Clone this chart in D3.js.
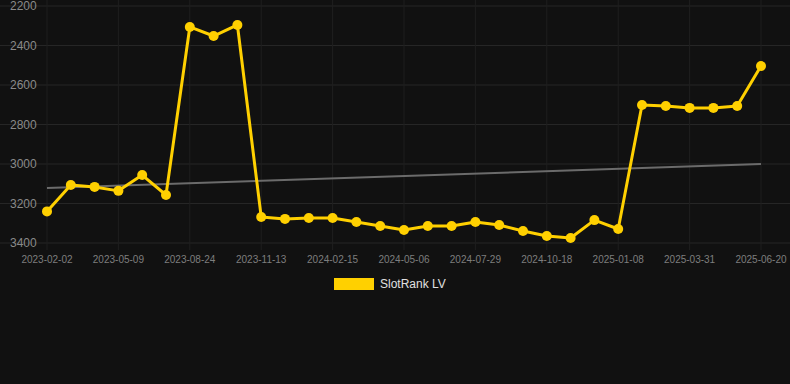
<!DOCTYPE html>
<html lang="en">
<head>
  <meta charset="utf-8" />
  <title>SlotRank LV</title>
  <script src="https://cdn.jsdelivr.net/npm/d3@7"></script>
  <style>
    body { margin: 0; background: #111111; }
    svg { display: block; font-family: "Liberation Sans", Arial, sans-serif; }
  </style>
</head>
<body>
<svg id="chart" width="790" height="384"></svg>
<script>
// rank per snapshot (lower is better, axis is inverted)
var rankValues = [3240, 3106, 3116, 3136, 3056, 3157, 2306, 2352, 2296, 3268,
                  3278, 3273, 3273, 3294, 3314, 3334, 3314, 3314, 3294, 3309,
                  3339, 3365, 3375, 3284, 3329, 2701, 2706, 2716, 2716, 2706, 2504];
// labels shown every third point
var tickLabels = ["2023-02-02", "2023-05-09", "2023-08-24", "2023-11-13", "2024-02-15",
                  "2024-05-06", "2024-07-29", "2024-10-18", "2025-01-08", "2025-03-31", "2025-06-20"];
var yTicks = [2200, 2400, 2600, 2800, 3000, 3200, 3400];
var trendEnds = [3121, 3000];
var seriesName = "SlotRank LV";

var W = 790, H = 384;
var svg = d3.select("#chart");

var x = d3.scaleLinear()
  .domain([0, rankValues.length - 1])
  .range([47, 761]);

var y = d3.scaleLinear()
  .domain([2200, 3400])
  .range([6, 243]);

// horizontal grid
svg.append("g").selectAll("line")
  .data(yTicks)
  .enter().append("line")
  .attr("x1", 0).attr("x2", W)
  .attr("y1", function(d) { return y(d); })
  .attr("y2", function(d) { return y(d); })
  .attr("stroke", "#262626")
  .attr("stroke-width", 1);

// vertical grid at labelled points
var tickIdx = tickLabels.map(function(d, i) { return i * 3; });
svg.append("g").selectAll("line")
  .data(tickIdx)
  .enter().append("line")
  .attr("x1", function(d) { return x(d); })
  .attr("x2", function(d) { return x(d); })
  .attr("y1", 0).attr("y2", 250)
  .attr("stroke", "#1f1f1f")
  .attr("stroke-width", 1);

// y labels
svg.append("g").selectAll("text")
  .data(yTicks)
  .enter().append("text")
  .attr("x", 10)
  .attr("y", function(d) { return y(d); })
  .attr("dy", "0.35em")
  .attr("fill", "#8a8a8a")
  .attr("font-size", 12)
  .text(function(d) { return d; });

// x labels
svg.append("g").selectAll("text")
  .data(tickLabels)
  .enter().append("text")
  .attr("x", function(d, i) { return x(i * 3); })
  .attr("y", 263)
  .attr("text-anchor", "middle")
  .attr("fill", "#7e7e7e")
  .attr("font-size", 10)
  .text(function(d) { return d; });

// trend line
svg.append("line")
  .attr("x1", x(0)).attr("x2", x(rankValues.length - 1))
  .attr("y1", y(trendEnds[0])).attr("y2", y(trendEnds[1]))
  .attr("stroke", "#6b6b6b")
  .attr("stroke-width", 2);

var line = d3.line()
  .x(function(d, i) { return x(i); })
  .y(function(d) { return y(d); });

svg.append("path")
  .datum(rankValues)
  .attr("d", line)
  .attr("fill", "none")
  .attr("stroke", "#ffd000")
  .attr("stroke-width", 3)
  .attr("stroke-linejoin", "round");

svg.append("g").selectAll("circle")
  .data(rankValues)
  .enter().append("circle")
  .attr("cx", function(d, i) { return x(i); })
  .attr("cy", function(d) { return y(d); })
  .attr("r", 5)
  .attr("fill", "#ffd000");

// legend
var leg = svg.append("g");
leg.append("rect")
  .attr("x", 334).attr("y", 278)
  .attr("width", 40).attr("height", 12)
  .attr("fill", "#ffd000");
leg.append("text")
  .attr("x", 380).attr("y", 284)
  .attr("dy", "0.35em")
  .attr("fill", "#e0e0e0")
  .attr("font-size", 12)
  .text(seriesName);
</script>
</body>
</html>
